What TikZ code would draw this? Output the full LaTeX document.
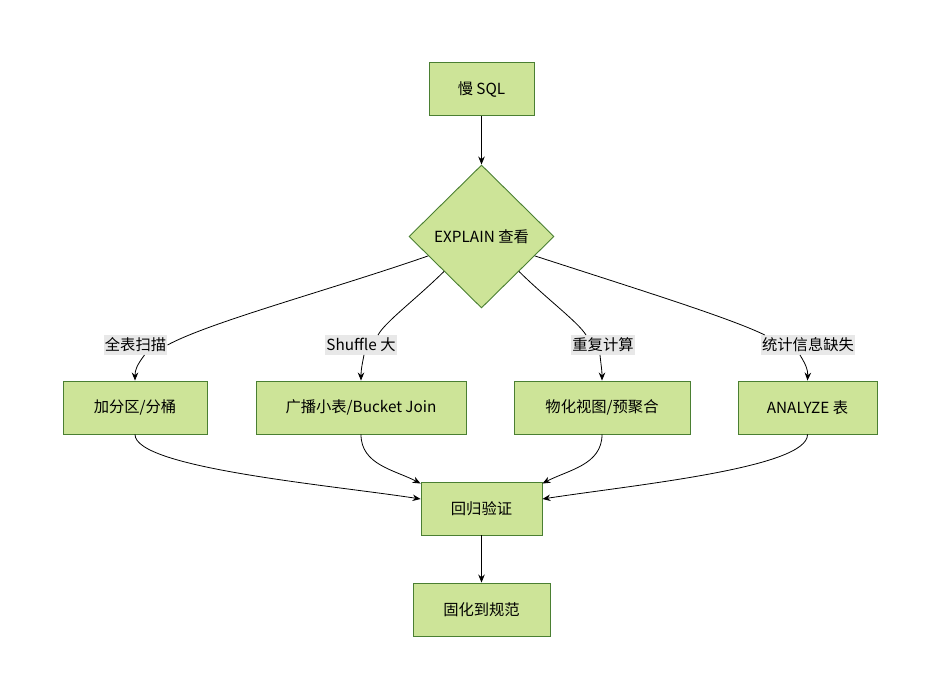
\documentclass[tikz,border=0pt]{standalone}
\usepackage{fontspec}
\setmainfont{Noto Sans CJK SC}
\usetikzlibrary{shapes.geometric,arrows.meta}
\definecolor{boxfill}{HTML}{CDE498}
\definecolor{boxline}{HTML}{4A7F32}
\definecolor{lblfill}{HTML}{E8E8E8}
\begin{document}
\begin{tikzpicture}[x=1pt,y=-1pt,font=\fontsize{15.3}{18}\selectfont,
	box/.style={draw=boxline,fill=boxfill,line width=0.9pt,minimum height=53pt,inner sep=0pt},
	decision/.style={diamond,draw=boxline,fill=boxfill,line width=0.9pt,minimum width=145pt,minimum height=143pt,inner sep=0pt},
	lbl/.style={fill=lblfill,inner xsep=1pt,inner ysep=2.5pt},
	arr/.style={-{Stealth[length=8pt,width=6.5pt]}},
	every path/.style={line width=0.8pt}]
	\useasboundingbox (0,0) rectangle (942,700);
	
	\node[box,minimum width=105pt] (slow) at (481.5,89) {慢 SQL};
	\node[decision] (explain) at (481.5,236.5) {EXPLAIN 查看};
	
	\node[lbl] (scan) at (135.5,345) {全表扫描}; \node[lbl] (shuffle) at (361,345) {Shuffle 大};
	\node[lbl] (repeat) at (603,345) {重复计算}; \node[lbl] (stats) at (808,345) {统计信息缺失};
	
	\node[box,minimum width=144pt] (part) at (135,407.5) {加分区/分桶};
	\node[box,minimum width=210pt] (bcast) at (361,407.5) {广播小表/Bucket Join};
	\node[box,minimum width=176pt] (mview) at (602,407.5) {物化视图/预聚合};
	\node[box,minimum width=139pt] (analyze) at (807.5,407.5) {ANALYZE 表};
	
	\node[box,minimum width=121pt] (verify) at (481.5,508.5) {回归验证};
	\node[box,minimum width=137pt] (norm) at (481.5,609.5) {固化到规范};
	
	\draw[arr] (slow) -- (explain);
	
	\draw (explain.200) .. controls (330,290) and (210,322) .. (scan.east); \draw[arr] ([xshift=9pt]scan.south) .. controls (137,365) and (135,370) .. (part.north);
	\draw (explain.223) .. controls (415,300) and (385,322) .. ([xshift=17pt]shuffle.north); \draw[arr] ([xshift=3pt]shuffle.south) .. controls (362,365) and (361,370) .. (bcast.north);
	\draw (explain.317) .. controls (548,300) and (578,322) .. ([xshift=-17pt]repeat.north); \draw[arr] ([xshift=-3pt]repeat.south) .. controls (601,365) and (602,370) .. (mview.north);
	\draw (explain.340) .. controls (640,290) and (730,318) .. ([xshift=4pt]stats.north west); \draw[arr] ([xshift=-8pt]stats.south) .. controls (806,365) and (808,370) .. (analyze.north);
	
	\draw[arr] (part.south) .. controls (135,468) and (330,485) .. ([yshift=9.5pt]verify.west);
	\draw[arr] (bcast.south) .. controls (361,465) and (395,470) .. ([yshift=-2pt]verify.north west);
	\draw[arr] (mview.south) .. controls (602,465) and (568,470) .. ([yshift=-2pt]verify.north east);
	\draw[arr] (analyze.south) .. controls (808,468) and (633,485) .. ([yshift=9.5pt]verify.east);
	
	\draw[arr] (verify) -- (norm);
\end{tikzpicture}
\end{document}
